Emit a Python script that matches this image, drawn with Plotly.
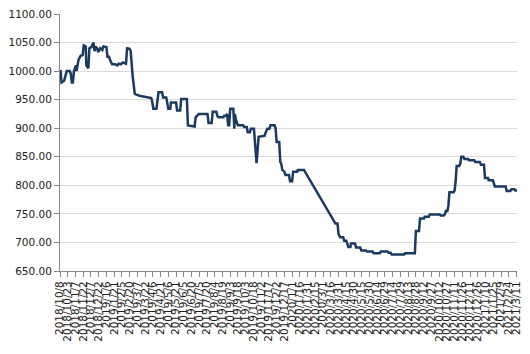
import pandas as pd
import plotly.graph_objects as go

start_date = "2018-10-08"
# days since start date
day_offsets = [
    1, 3, 8, 10, 13, 19, 21, 23, 25, 27, 29, 31, 32, 34, 36, 40, 44, 46, 50, 51,
    55, 57, 61, 63, 65, 67, 69, 72, 74, 78, 82, 84, 90, 92, 95, 97, 101, 107, 111, 114,
    118, 122, 128, 130, 135, 137, 139, 141, 143, 145, 154, 168, 177, 179, 181, 187, 189, 191, 198, 200,
    206, 208, 210, 214, 215, 225, 227, 233, 235, 246, 248, 261, 263, 269, 286, 288, 294, 296, 303, 305,
    307, 317, 318, 322, 324, 326, 328, 330, 336, 338, 339, 341, 345, 355, 357, 362, 364, 368, 370, 376,
    378, 381, 383, 385, 397, 398, 402, 406, 408, 416, 418, 420, 425, 427, 429, 431, 435, 437, 444, 446,
    450, 452, 460, 461, 473, 534, 538, 540, 543, 549, 551, 555, 557, 559, 563, 564, 572, 574, 582, 584,
    593, 595, 606, 608, 620, 622, 635, 637, 641, 643, 667, 669, 688, 690, 696, 698, 706, 707, 715, 717,
    736, 738, 744, 746, 748, 751, 753, 755, 763, 765, 767, 769, 774, 776, 778, 782, 784, 791, 793, 803,
    805, 814, 816, 822, 824, 830, 831, 839, 841, 843, 864, 866, 873, 875, 881, 883, 886,
]
values = [
    1002, 980, 983, 990, 1000, 1000, 995, 980, 980, 1000, 1005, 1010, 1000, 1008, 1020, 1027, 1028, 1045, 1043, 1010,
    1005, 1040, 1042, 1047, 1050, 1035, 1043, 1040, 1033, 1040, 1037, 1043, 1042, 1025, 1025, 1020, 1012, 1012, 1010, 1013,
    1012, 1015, 1013, 1040, 1039, 1035, 1000, 990, 975, 960, 957, 955, 953, 945, 934, 934, 950, 963, 963, 954,
    954, 945, 934, 934, 945, 945, 931, 931, 951, 951, 905, 903, 919, 925, 925, 909, 909, 929, 929, 922,
    919, 919, 922, 922, 925, 905, 905, 934, 934, 899, 925, 915, 905, 905, 902, 902, 893, 893, 899, 899,
    873, 839, 860, 885, 887, 891, 899, 899, 905, 905, 900, 876, 876, 841, 838, 827, 824, 818, 818, 807,
    807, 824, 824, 827, 827, 733, 733, 715, 709, 709, 703, 703, 698, 692, 692, 698, 698, 691, 691, 686,
    686, 684, 684, 681, 681, 684, 684, 682, 682, 679, 679, 681, 681, 720, 720, 742, 742, 745, 745, 749,
    749, 747, 747, 749, 755, 755, 764, 788, 788, 791, 807, 834, 834, 838, 850, 850, 846, 846, 844, 844,
    841, 841, 836, 836, 813, 813, 809, 809, 804, 798, 798, 790, 790, 793, 793, 791, 791,
]

# x-axis tick dates: every 15 days from the start date (60 labels)
tick_dates = pd.date_range(start_date, periods=60, freq="15D")
tick_labels = [f"{d.year}/{d.month}/{d.day}" for d in tick_dates]

dates = pd.Timestamp(start_date) + pd.to_timedelta(day_offsets, unit="D")

fig = go.Figure()
fig.add_trace(go.Scatter(
    x=dates, y=values, mode="lines",
    line=dict(color="#1b3a61", width=2.5),
    showlegend=False,
))

font_family = "DejaVu Sans"
fig.update_layout(
    width=530, height=354,
    margin=dict(l=57, r=8, t=11, b=83),
    paper_bgcolor="white", plot_bgcolor="white",
    font=dict(family=font_family, size=10.5, color="#222222"),
    xaxis=dict(
        type="date",
        range=["2018-10-08", "2021-03-12"],
        tickmode="array", tickvals=tick_dates, ticktext=tick_labels,
        tickangle=-90,
        ticks="outside", ticklen=5, tickcolor="#888888",
        showline=True, linecolor="#888888", linewidth=1,
        showgrid=False, zeroline=False,
        tickfont=dict(family=font_family, size=10.5, color="#222222"),
    ),
    yaxis=dict(
        range=[650, 1100], dtick=50, tickformat=".2f",
        ticks="outside", ticklen=5, tickcolor="#888888",
        showline=True, linecolor="#888888", linewidth=1,
        showgrid=True, gridcolor="#d9d9d9", gridwidth=1,
        zeroline=False,
        tickfont=dict(family=font_family, size=10.5, color="#222222"),
    ),
)

fig.write_html("out.html")
